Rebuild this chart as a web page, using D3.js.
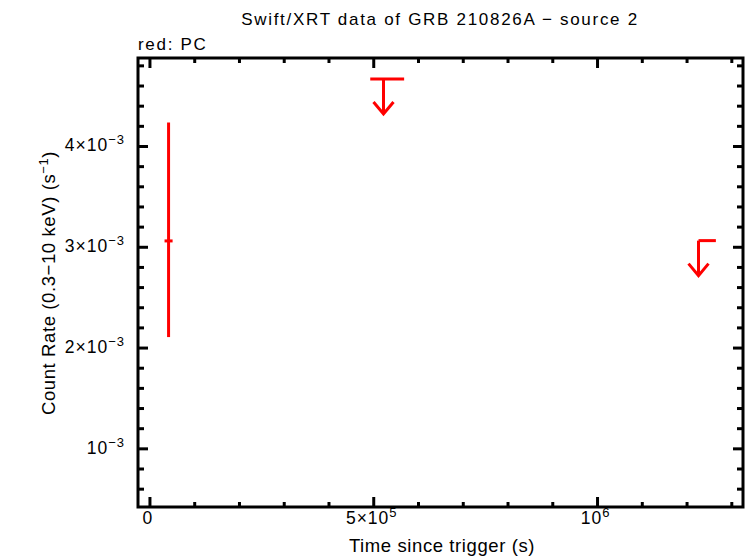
<!DOCTYPE html>
<html><head><meta charset="utf-8">
<script src="https://cdn.jsdelivr.net/npm/d3@7"></script>
<style>body{margin:0;background:#fff}svg{display:block}text{font-family:"Liberation Sans",Arial,sans-serif;fill:#000}</style>
</head><body><svg id="c" width="746" height="558"></svg>
<script>
// Detections (PC mode)
const detT = [4.16e4];
const detTErrLo = [9e3];
const detTErrHi = [9e3];
const detRate = [3.063e-3];
const detRateLo = [2.109e-3];
const detRateHi = [4.238e-3];
// Upper limits (PC mode)
const ulT = [5.218e5, 1.2256e6];
const ulTLo = [4.922e5, 1.2256e6];
const ulTHi = [5.679e5, 1.2644e6];
const ulRate = [4.67e-3, 3.066e-3];
// Axis ticks
const xMajor = [0, 5e5, 1e6];
const xMajorLabels = [["0", null], ["5×10", "5"], ["10", "6"]];
const xMinor = [1e5, 2e5, 3e5, 4e5, 6e5, 7e5, 8e5, 9e5, 1.1e6, 1.2e6, 1.3e6];
const yMajor = [1e-3, 2e-3, 3e-3, 4e-3];
const yMajorLabels = [["10", "−3"], ["2×10", "−3"], ["3×10", "−3"], ["4×10", "−3"]];
const yMinor = [0.6e-3, 0.8e-3, 1.2e-3, 1.4e-3, 1.6e-3, 1.8e-3, 2.2e-3, 2.4e-3, 2.6e-3, 2.8e-3, 3.2e-3, 3.4e-3, 3.6e-3, 3.8e-3, 4.2e-3, 4.4e-3, 4.6e-3, 4.8e-3];

const L = 138, R = 743, T = 58, B = 507;
const x = d3.scaleLinear().domain([-2.67e4, 1.325e6]).range([L, R]);
const y = d3.scaleLinear().domain([0.423e-3, 4.878e-3]).range([B, T]);
const svg = d3.select("#c");
const red = "#ff0000";

// ticks
const tk = svg.append("g").attr("stroke", "#000").attr("stroke-width", 3);
function xt(v, len) {
  tk.append("line").attr("x1", x(v)).attr("x2", x(v)).attr("y1", B).attr("y2", B - len);
  tk.append("line").attr("x1", x(v)).attr("x2", x(v)).attr("y1", T).attr("y2", T + len);
}
function yt(v, len) {
  tk.append("line").attr("y1", y(v)).attr("y2", y(v)).attr("x1", L).attr("x2", L + len);
  tk.append("line").attr("y1", y(v)).attr("y2", y(v)).attr("x1", R).attr("x2", R - len);
}
xMajor.forEach(v => xt(v, 10)); xMinor.forEach(v => xt(v, 5));
yMajor.forEach(v => yt(v, 10)); yMinor.forEach(v => yt(v, 6));
svg.append("rect").attr("x", L).attr("y", T).attr("width", R - L).attr("height", B - T)
  .attr("fill", "none").attr("stroke", "#000").attr("stroke-width", 3);

// tick labels
function lab(g, base, sup) {
  g.append("tspan").text(base);
  if (sup) g.append("tspan").attr("dy", -7).attr("font-size", 13).text(sup);
}
xMajor.forEach((v, i) => {
  const t = svg.append("text").attr("x", x(v) - 2).attr("y", 523.5).attr("font-size", 17.5)
    .attr("letter-spacing", 1).attr("text-anchor", "middle");
  lab(t, xMajorLabels[i][0], xMajorLabels[i][1]);
});
yMajor.forEach((v, i) => {
  const t = svg.append("text").attr("x", 125).attr("y", y(v) + 5).attr("font-size", 17.5)
    .attr("letter-spacing", 1).attr("text-anchor", "end");
  lab(t, yMajorLabels[i][0], yMajorLabels[i][1]);
});

// titles
svg.append("text").attr("x", 440).attr("y", 24.5).attr("font-size", 17).attr("letter-spacing", 1.7)
  .attr("text-anchor", "middle").text("Swift/XRT data of GRB 210826A − source 2");
svg.append("text").attr("x", 138).attr("y", 50).attr("font-size", 17).attr("letter-spacing", 1.7).text("red: PC");
svg.append("text").attr("x", 442).attr("y", 552).attr("font-size", 18.5).attr("letter-spacing", 0.6)
  .attr("text-anchor", "middle").text("Time since trigger (s)");
const yl = svg.append("text").attr("transform", "translate(55,283) rotate(-90)").attr("font-size", 18.5)
  .attr("letter-spacing", 0.6).attr("text-anchor", "middle");
yl.append("tspan").text("Count Rate (0.3−10 keV) (s");
yl.append("tspan").attr("dy", -7).attr("font-size", 13).text("−1");
yl.append("tspan").attr("dy", 7).text(")");

// data
const dg = svg.append("g").attr("stroke", red).attr("stroke-width", 3).attr("fill", "none");
detT.forEach((t, i) => {
  dg.append("line").attr("x1", x(t)).attr("x2", x(t)).attr("y1", y(detRateLo[i])).attr("y2", y(detRateHi[i]));
  dg.append("line").attr("x1", x(t - detTErrLo[i])).attr("x2", x(t + detTErrHi[i])).attr("y1", y(detRate[i])).attr("y2", y(detRate[i]));
});
const arrowLen = 35, head = 10;
ulT.forEach((t, i) => {
  const cx = x(t), cy = y(ulRate[i]);
  dg.append("line").attr("x1", x(ulTLo[i])).attr("x2", x(ulTHi[i])).attr("y1", cy).attr("y2", cy);
  dg.append("line").attr("x1", cx).attr("x2", cx).attr("y1", cy).attr("y2", cy + arrowLen);
  dg.append("path").attr("d", `M${cx - head},${cy + arrowLen - 12}L${cx},${cy + arrowLen}L${cx + head},${cy + arrowLen - 12}`);
});
</script></body></html>
